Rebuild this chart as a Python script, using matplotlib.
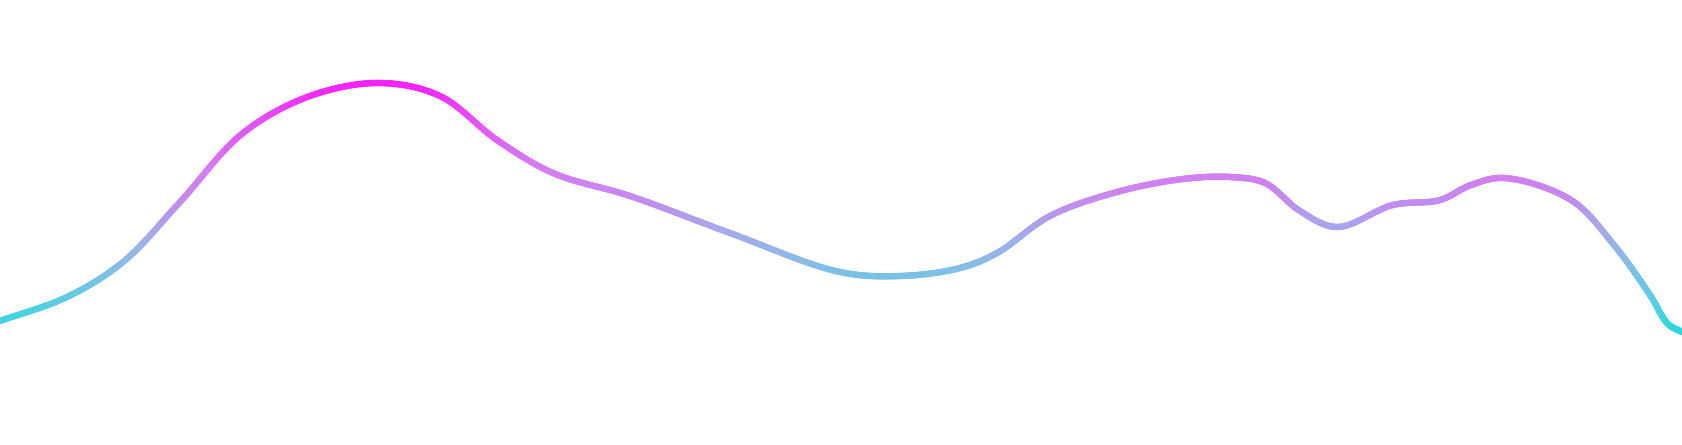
import numpy as np
import matplotlib
matplotlib.use("Agg")
import matplotlib.pyplot as plt
from matplotlib.collections import LineCollection
from matplotlib.colors import LinearSegmentedColormap

# curve anchor points (pixel coords, y down)
curve_x = [0, 67, 123, 180, 243, 310, 380, 440, 497, 553, 630, 730, 840,
           900, 960, 997, 1050, 1117, 1183, 1230, 1265, 1300, 1337, 1393,
           1440, 1471, 1504, 1571, 1614, 1650, 1668, 1682]
curve_y = [321, 297, 262, 202, 133, 96, 83, 96, 140, 173, 196, 233, 272,
           276, 268, 253, 216, 192, 179, 177, 183, 211, 227, 205,
           200, 185, 178, 200, 245, 295, 324, 332]

# vertical gradient stops (0 = top of curve, 1 = bottom)
grad_pos = [0.0, 0.11, 0.33, 0.39, 0.47, 0.6, 0.71, 0.76, 0.86, 0.95, 1.0]
grad_colors = ["#f521fa", "#ea44f8", "#d57cf4", "#d080f0", "#c48af0",
               "#a5aaeb", "#8cbbe6", "#7dc0e6", "#62cbe2", "#40d4e0", "#2dd7e1"]

W, H = 1682, 445


def centripetal_cr(px, py, n=30, alpha=0.5):
    P = np.column_stack([px, py]).astype(float)
    P = np.vstack([P[0] * 2 - P[1], P, P[-1] * 2 - P[-2]])
    out = []
    for i in range(1, len(P) - 2):
        p0, p1, p2, p3 = P[i - 1], P[i], P[i + 1], P[i + 2]
        t0 = 0.0
        t1 = t0 + np.linalg.norm(p1 - p0) ** alpha
        t2 = t1 + np.linalg.norm(p2 - p1) ** alpha
        t3 = t2 + np.linalg.norm(p3 - p2) ** alpha
        t = np.linspace(t1, t2, n, endpoint=False)[:, None]
        a1 = (t1 - t) / (t1 - t0) * p0 + (t - t0) / (t1 - t0) * p1
        a2 = (t2 - t) / (t2 - t1) * p1 + (t - t1) / (t2 - t1) * p2
        a3 = (t3 - t) / (t3 - t2) * p2 + (t - t2) / (t3 - t2) * p3
        b1 = (t2 - t) / (t2 - t0) * a1 + (t - t0) / (t2 - t0) * a2
        b2 = (t3 - t) / (t3 - t1) * a2 + (t - t1) / (t3 - t1) * a3
        out.append((t2 - t) / (t2 - t1) * b1 + (t - t1) / (t2 - t1) * b2)
    out.append(P[-2][None, :])
    return np.vstack(out)


pts = centripetal_cr(curve_x, curve_y)
segs = np.stack([pts[:-1], pts[1:]], axis=1)

cmap = LinearSegmentedColormap.from_list("grad", list(zip(grad_pos, grad_colors)))
ymin, ymax = min(curve_y), max(curve_y)
mid_y = (pts[:-1, 1] + pts[1:, 1]) / 2
colors = cmap(np.clip((mid_y - ymin) / (ymax - ymin), 0, 1))

fig = plt.figure(figsize=(W / 100, H / 100), dpi=100)
ax = fig.add_axes([0, 0, 1, 1])
ax.set_xlim(0, W)
ax.set_ylim(H, 0)
ax.axis("off")

lc = LineCollection(segs, colors=colors, linewidths=4.6, capstyle="round",
                    joinstyle="round")
ax.add_collection(lc)

fig.savefig("out.png", dpi=100, facecolor="white")
